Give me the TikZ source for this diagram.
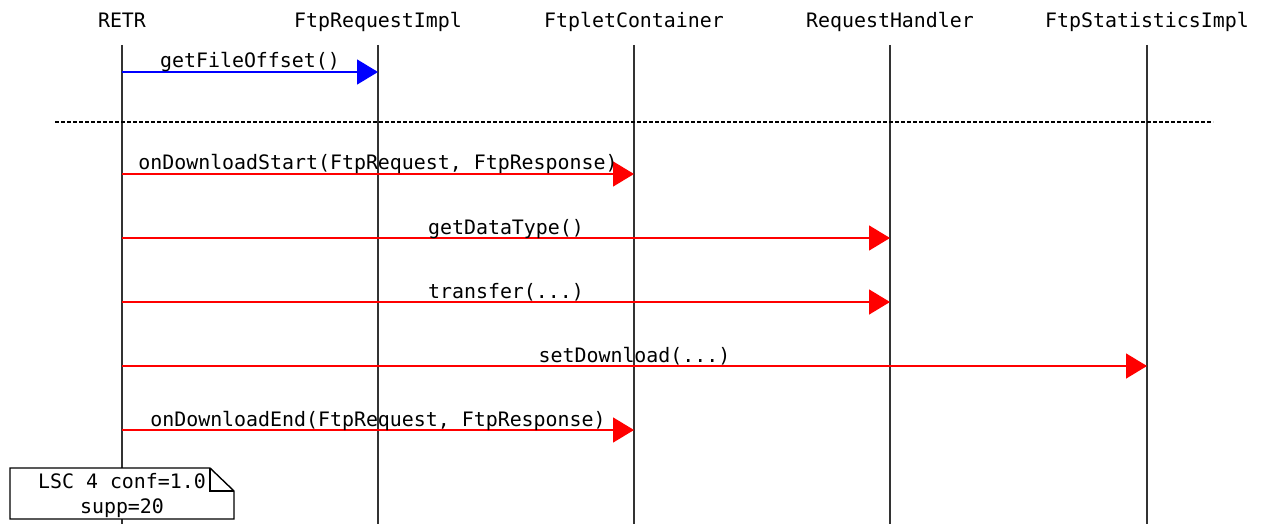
\documentclass[tikz,border=0pt]{standalone}
\usepackage{fontspec}
\newfontfamily\lscfont{DejaVu Sans Mono}
\usepackage{tikz}
\usetikzlibrary{arrows.meta,positioning}
\definecolor{callBlue}{RGB}{0,0,255}
\definecolor{callRed}{RGB}{255,0,0}

\begin{document}
\begin{tikzpicture}[x=1pt,y=-1pt,
  actor/.style={anchor=base,inner sep=0pt,font=\lscfont\fontsize{19.9}{24}\selectfont},
  msgtext/.style={anchor=base,inner sep=0pt,yshift=4pt,text=black,font=\lscfont\fontsize{19.9}{24}\selectfont},
  lifeline/.style={line width=1.8pt,color=black!80},
  msg/.style={-{Triangle[length=21pt,width=25pt]},line width=1.6pt,color=callRed},
  sep/.style={line width=1.2pt,dash pattern=on 4pt off 2pt},
  notebox/.style={draw,line width=1.4pt,fill=white}
]
\useasboundingbox (0,0) rectangle (1261,524);
\node[actor] (retr) at (122,28) {RETR};
\node[actor] (req) at (378,28) {FtpRequestImpl};
\node[actor] (cont) at (634,28) {FtpletContainer};
\node[actor] (hand) at (890,28) {RequestHandler};
\node[actor] (stat) at (1147,28) {FtpStatisticsImpl};
\coordinate (bottom) at (0,524);
\draw[lifeline] ([yshift=-17pt]retr.base) -- (retr.base |- bottom);
\draw[lifeline] ([yshift=-17pt]req.base) -- (req.base |- bottom);
\draw[lifeline] ([yshift=-17pt]cont.base) -- (cont.base |- bottom);
\draw[lifeline] ([yshift=-17pt]hand.base) -- (hand.base |- bottom);
\draw[lifeline] ([yshift=-17pt]stat.base) -- (stat.base |- bottom);
% rows of the calls
\coordinate (m1) at (0,72);
\coordinate (m2) at (0,174);
\coordinate (m3) at (0,238);
\coordinate (m4) at (0,302);
\coordinate (m5) at (0,366);
\coordinate (m6) at (0,430);
\draw[msg,color=callBlue] (retr |- m1) -- node[msgtext] {getFileOffset()} (req |- m1);
\coordinate (sepL) at (55,122);
\coordinate (sepR) at (1213,122);
\draw[sep] (sepL) -- (sepR);
\draw[msg] (retr |- m2) -- node[msgtext] {onDownloadStart(FtpRequest, FtpResponse)} (cont |- m2);
\draw[msg] (retr |- m3) -- node[msgtext] {getDataType()} (hand |- m3);
\draw[msg] (retr |- m4) -- node[msgtext] {transfer(...)} (hand |- m4);
\draw[msg] (retr |- m5) -- node[msgtext] {setDownload(...)} (stat |- m5);
\draw[msg] (retr |- m6) -- node[msgtext] {onDownloadEnd(FtpRequest, FtpResponse)} (cont |- m6);
% note
\draw[notebox] (10,468) -- (210,468) -- (234,491) -- (234,519) -- (10,519) -- cycle;
\draw[line width=1.4pt] (210,468) |- (234,491);
\node[actor] (conf) at (122,488) {LSC 4 conf=1.0};
\node[actor] (supp) at (122,513) {supp=20};
\end{tikzpicture}
\end{document}
